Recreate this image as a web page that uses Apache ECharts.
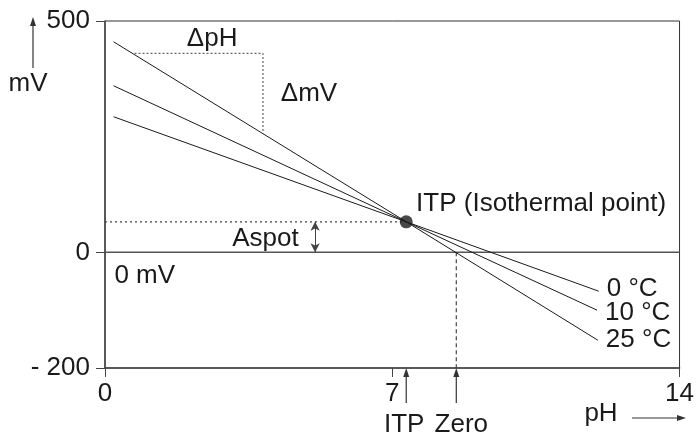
<!DOCTYPE html>
<html>
<head>
<meta charset="utf-8">
<script src="https://cdn.jsdelivr.net/npm/echarts@6/dist/echarts.min.js"></script>
<style>
  html, body { margin: 0; padding: 0; background: #fff; }
  #chart { width: 697px; height: 437px; }
</style>
</head>
<body>
<div id="chart"></div>
<script>
// schematic: the picture is not to scale below zero, so the bottom tick sits at -250 axis units
var phTicks = [0, 7, 14];
var mvTickValues = [-250, 0, 500];
var mvTickLabels = ['- 200', '0', '500'];

var lineNames = ['0 °C', '10 °C', '25 °C'];
var line0C = [[0.21, 293], [7.34, 66], [12.03, -84]];
var line10C = [[0.21, 360], [7.34, 66], [11.99, -125]];
var line25C = [[0.21, 455], [7.34, 66], [12.01, -190]];

var itpPoint = [7.34, 66];
var zeroPh = 8.56;
var aspotPh = 5.12;
var zeroLine = [[0, 0], [14, 0]];
var slopeCorner = [[0.72, 430], [3.85, 430], [3.85, 257]];
var itpLevel = [[0, 66], [7.34, 66]];
var zeroDrop = [[8.56, 0], [8.56, -250]];

var FONT = 'Liberation Sans, Arial, sans-serif';
var FS = 26;
var INK = '#1a1a1a';

var chart = echarts.init(document.getElementById('chart'));

function plainLine(name, data, style) {
    return {
        name: name,
        type: 'line',
        data: data,
        symbol: 'none',
        silent: true,
        lineStyle: style,
        z: 3
    };
}

var tempSeries = [line0C, line10C, line25C].map(function (d, i) {
    return {
        name: lineNames[i],
        type: 'line',
        data: d,
        symbol: 'none',
        lineStyle: {color: INK, width: 1},
        endLabel: {
            show: true,
            formatter: '{a}',
            distance: 8,
            fontFamily: FONT,
            fontSize: FS,
            color: INK,
            offset: [0, [-2, 3, 0][i]]
        },
        z: 4
    };
});

var option = {
    animation: false,
    grid: {
        left: 105, top: 21, right: 14, bottom: 69,
        show: true, borderColor: '#333', borderWidth: 1
    },
    xAxis: {
        type: 'value',
        min: 0, max: 14, interval: 7,
        axisLine: {onZero: false, lineStyle: {color: '#444', width: 1.5}},
        axisTick: {show: true, length: 9, lineStyle: {color: '#444'}},
        axisLabel: {
            fontFamily: FONT, fontSize: FS, color: INK, margin: 13,
            formatter: function (v) { return phTicks.indexOf(v) >= 0 ? String(v) : ''; }
        },
        splitLine: {show: false}
    },
    yAxis: {
        type: 'value',
        min: -250, max: 500,
        axisLine: {show: true, onZero: false, lineStyle: {color: '#444', width: 1.5}},
        axisTick: {show: true, length: 9, customValues: mvTickValues, lineStyle: {color: '#444'}},
        axisLabel: {
            fontFamily: FONT, fontSize: FS, color: INK, margin: 15,
            customValues: mvTickValues,
            formatter: function (v) { return mvTickLabels[mvTickValues.indexOf(v)]; }
        },
        splitLine: {show: false}
    },
    series: [
        {
            type: 'line', data: zeroLine, symbol: 'none', silent: true,
            lineStyle: {color: '#555', width: 1.5}, z: 2,
            markLine: {
                silent: true,
                symbol: ['arrow', 'arrow'],
                symbolSize: [7, 9],
                label: {show: false},
                lineStyle: {color: '#444', width: 1, type: 'solid'},
                data: [[{coord: [aspotPh, 0]}, {coord: [aspotPh, itpPoint[1]]}]]
            }
        },
        plainLine('corner', slopeCorner, {color: '#666', width: 1.2, type: [2, 2]}),
        plainLine('itpLevel', itpLevel, {color: '#444', width: 1.2, type: [2, 3]}),
        plainLine('zeroDrop', zeroDrop, {color: '#444', width: 1.2, type: [4, 3]})
    ].concat(tempSeries).concat([
        {
            type: 'scatter',
            data: [itpPoint],
            symbolSize: 13,
            itemStyle: {color: INK},
            z: 6
        }
    ])
};

chart.setOption(option);

// annotations placed in data units, turned into pixels through the axes
var annotations = [
    {text: 'ΔpH', at: [2.61, 461], align: 'center'},
    {text: 'ΔmV', at: [4.97, 343], align: 'center'},
    {text: 'Aspot', at: [4.72, 29], align: 'right'},
    {text: '0 mV', at: [0.23, -51], align: 'left'},
    {text: 'ITP (Isothermal point)', at: [7.58, 104], align: 'left'}
];

function px(p) {
    return chart.convertToPixel({gridIndex: 0}, p);
}

function label(text, x, y, align) {
    return {
        type: 'text', x: x, y: y, silent: true,
        style: {text: text, font: FS + 'px ' + FONT, fill: INK, textAlign: align, textVerticalAlign: 'middle'}
    };
}

var graphics = [];
annotations.forEach(function (a) {
    var p = px(a.at);
    graphics.push(label(a.text, p[0], p[1], a.align));
});

function upArrow(x, yTop, yBottom) {
    return [
        {type: 'line', shape: {x1: x, y1: yBottom, x2: x, y2: yTop + 7}, style: {stroke: '#333', lineWidth: 1.2}},
        {type: 'polygon', shape: {points: [[x, yTop], [x - 3, yTop + 9], [x + 3, yTop + 9]]}, style: {fill: '#333'}}
    ];
}

var axisBottom = px([0, -250])[1];
var belowLabels = [
    {text: 'ITP', ph: itpPoint[0], shift: -2},
    {text: 'Zero', ph: zeroPh, shift: 5}
];
belowLabels.forEach(function (b) {
    var x = px([b.ph, 0])[0];
    graphics = graphics.concat(upArrow(x, axisBottom, axisBottom + 35));
    graphics.push(label(b.text, x + b.shift, axisBottom + 57, 'center'));
});

// axis-name arrows outside the plot
graphics = graphics.concat(upArrow(33, 17, 68));
graphics.push(label('mV', 28, 84, 'center'));
graphics.push(
    {type: 'line', shape: {x1: 632, y1: 418, x2: 678, y2: 418}, style: {stroke: '#333', lineWidth: 1.2}},
    {type: 'polygon', shape: {points: [[686, 418], [677, 415], [677, 421]]}, style: {fill: '#333'}},
    label('pH', 601, 414, 'center')
);

chart.setOption({graphic: graphics});
</script>
</body>
</html>
